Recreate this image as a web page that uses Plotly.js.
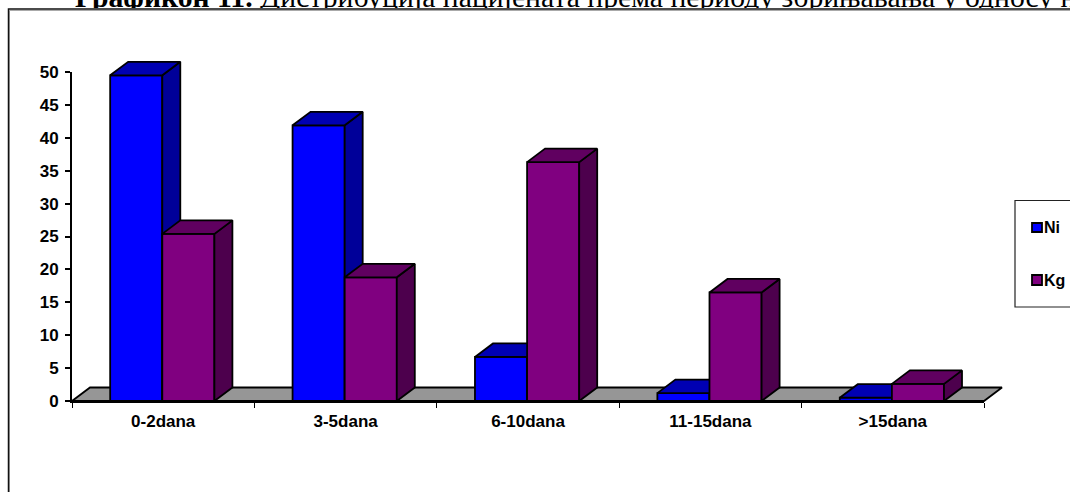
<!DOCTYPE html>
<html><head><meta charset="utf-8">
<script src="https://cdn.plot.ly/plotly-3.0.1.min.js"></script>
<style>html,body{margin:0;padding:0;background:#fff;overflow:hidden}
#chart .gtitle{clip-path:polygon(0 -40px,1070px -40px,1070px 8px,0 8px) view-box}</style>
</head><body><div id="chart" style="width:1070px;height:492px"></div>
<script>
const categories = ['0-2dana','3-5dana','6-10dana','11-15dana','>15dana'];
const ni = [49.5, 41.9, 6.7, 1.2, 0.5];
const kg = [25.4, 18.8, 36.3, 16.5, 2.6];
const yTicks = [0,5,10,15,20,25,30,35,40,45,50];
const catTicks = [-0.5,0.5,1.5,2.5,3.5,4.5];
const niColors = {front:'#0000ff', side:'#000099', top:'#0000b3'};
const kgColors = {front:'#800080', side:'#4d004d', top:'#600060'};
const floorColor = '#969696';
const titleBold = 'Графикон 11.';
const titleRest = ' Дистрибуција пацијената према периоду збрињавања у односу н';

const W=1070,H=492;
const L=72,R=984,T=72,B=401;
const L2=60,R2=1012,T2=50,B2=412;
const FRAME_TOP=9;
const px=x=>(x-L2)/(R2-L2), py=y=>(B2-y)/(B2-T2);
const xs=categories.map((_,i)=>i);
const unitX=(R-L)/5, unitY=(B-T)/50;
const barW=1/3.5, dx=18/unitX, dy=13.5/unitY, nudge=0.005;
const xWide=[-0.5-(L-L2)/unitX, 4.5+(R2-R)/unitX];
const yWide=[-(B2-B)/unitY, 50+(T-T2)/unitY];
const lw=1.8;
const line={color:'#000',width:lw};
function poly(xa,ya,color,axes,name){
  return Object.assign({type:'scatter',mode:'lines',x:xa.concat(xa[0]),y:ya.concat(ya[0]),fill:'toself',fillcolor:color,line:line,hoverinfo:'skip',showlegend:false,name:name},axes);
}
function series(name,vals,offset,col,axes){
  const out=[{type:'bar',name:name,x:xs,y:vals,width:barW,offset:offset,marker:{color:col.front,line:{color:'#000',width:lw}},showlegend:false,...axes}];
  vals.forEach((v,i)=>{
    const l=i+offset,r=l+barW;
    out.push(poly([r,r+dx,r+dx,r],[0,dy,v+dy,v],col.side,axes,name+' side'));
    out.push(poly([l,r,r+dx,l+dx],[v,v,v+dy,v+dy],col.top,axes,name+' top'));
  });
  return out;
}
const a2={xaxis:'x2',yaxis:'y2'}, a3={xaxis:'x3',yaxis:'y3'}, a4={xaxis:'x4',yaxis:'y4'};
const floor=poly([-0.5,4.5,4.5+dx,-0.5+dx],[0,0,dy,dy],floorColor,a2,'floor');
const base={type:'scatter',mode:'markers',x:[0],y:[0],marker:{opacity:0},hoverinfo:'skip',showlegend:false,xaxis:'x',yaxis:'y'};
const data=[base,floor].concat(series('Ni',ni,-barW-nudge,niColors,a3),series('Kg',kg,-nudge,kgColors,a4));
const font={family:'"Liberation Sans",Arial,sans-serif',size:17,color:'#000',weight:700};
const legendFont={family:'"Liberation Sans",Arial,sans-serif',size:16,color:'#000',weight:700};
function hidden(n,kind){
  return {visible:false,domain:[0,1],anchor:(kind==='x'?'y':'x')+n,range:kind==='x'?xWide:yWide};
}
const layout={width:W,height:H,showlegend:false,barmode:'overlay',
  paper_bgcolor:'#fff',plot_bgcolor:'rgba(0,0,0,0)',
  margin:{l:L2,r:W-R2,t:T2,b:H-B2,pad:0},
  font:font,
  title:{text:'<b>'+titleBold+'</b>'+titleRest,x:75/W,xanchor:'left',y:1,yanchor:'top',pad:{t:-14},font:{family:'"Liberation Serif",serif',size:29.7,color:'#000',weight:400}},
  xaxis:{domain:[px(L),px(R)],anchor:'y',range:[-0.5,4.5],tickmode:'array',tickvals:xs,ticktext:categories,ticks:'',showgrid:false,zeroline:false,showline:true,linecolor:'#000',linewidth:2,tickfont:font,ticklabelstandoff:4,
    minor:{tickmode:'array',tickvals:catTicks,ticks:'outside',ticklen:5,tickcolor:'#000',tickwidth:1,showgrid:false}},
  yaxis:{domain:[py(B),py(T)],anchor:'x',range:[0,50],tickmode:'array',tickvals:yTicks,ticks:'outside',ticklen:5,tickcolor:'#000',tickwidth:1.5,showgrid:false,zeroline:false,showline:true,linecolor:'#000',linewidth:2,tickfont:font,ticklabelstandoff:3},
  xaxis2:hidden(2,'x'),yaxis2:hidden(2,'y'),
  xaxis3:hidden(3,'x'),yaxis3:hidden(3,'y'),
  xaxis4:hidden(4,'x'),yaxis4:hidden(4,'y'),
  shapes:[
    {type:'rect',xref:'paper',yref:'paper',x0:px(9.5),x1:px(1085),y0:py(FRAME_TOP+1.5),y1:py(510),line:{color:'#aaa',width:1},fillcolor:'rgba(0,0,0,0)',layer:'below'},
    {type:'rect',xref:'paper',yref:'paper',x0:px(8.5),x1:px(1085),y0:py(FRAME_TOP),y1:py(510),line:{color:'#111',width:1.5},fillcolor:'rgba(0,0,0,0)',layer:'below'},
    {type:'rect',xref:'paper',yref:'paper',x0:px(1015),x1:px(1085),y0:py(200.5),y1:py(307),line:{color:'#222',width:1.2},fillcolor:'#fff',layer:'below'},
    {type:'rect',xref:'paper',yref:'paper',x0:px(1032),x1:px(1042),y0:py(223),y1:py(232),line:{color:'#000',width:1.8},fillcolor:niColors.front},
    {type:'rect',xref:'paper',yref:'paper',x0:px(1032),x1:px(1042),y0:py(275),y1:py(285),line:{color:'#000',width:1.8},fillcolor:kgColors.front}
  ],
  annotations:[
    {text:'Ni',xref:'paper',yref:'paper',x:px(1042),y:py(227),xanchor:'left',yanchor:'middle',showarrow:false,font:legendFont},
    {text:'Kg',xref:'paper',yref:'paper',x:px(1042),y:py(280),xanchor:'left',yanchor:'middle',showarrow:false,font:legendFont}
  ]
};
Plotly.newPlot('chart',data,layout,{displayModeBar:false,responsive:false});
</script></body></html>
